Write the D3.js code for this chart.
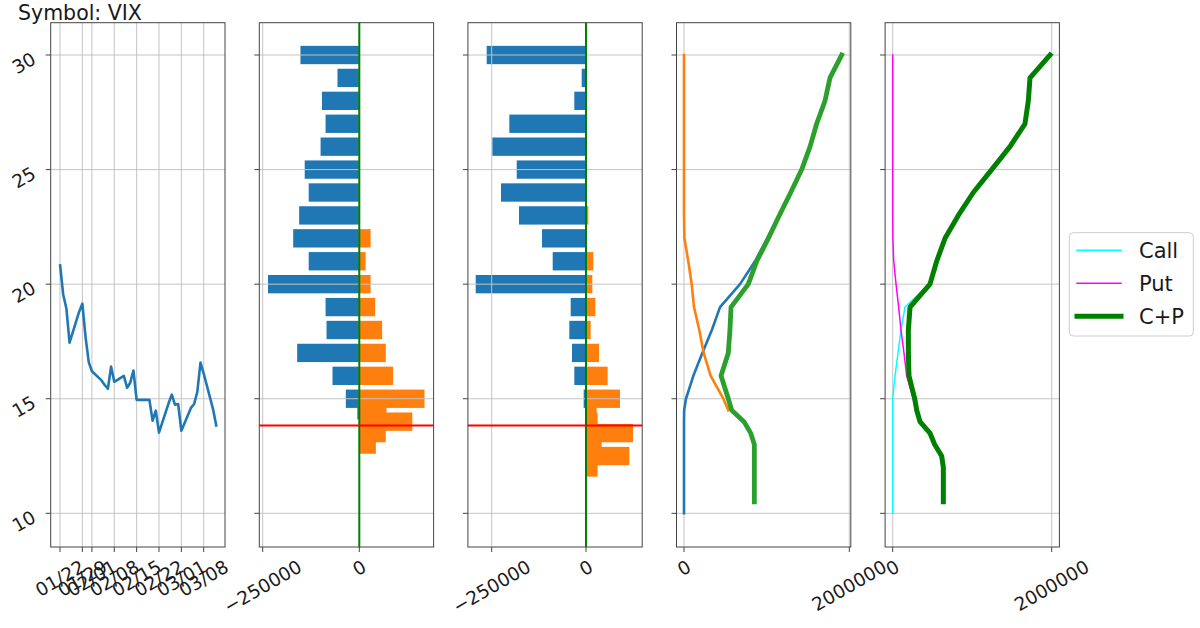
<!DOCTYPE html>
<html><head><meta charset="utf-8">
<script src="https://cdn.jsdelivr.net/npm/d3@7"></script>
<style>
body{margin:0;background:#fff}
svg{display:block}
text{font-family:"DejaVu Sans",sans-serif;fill:#1a1a1a}
</style>
</head><body>
<svg id="chart" width="1200" height="628"></svg>
<script>
// ---------------- data ----------------
const titleText = "Symbol: VIX";

const priceDates = ["2019-01-22","2019-01-23","2019-01-24","2019-01-25","2019-01-28","2019-01-29","2019-01-30","2019-01-31",
  "2019-02-01","2019-02-04","2019-02-05","2019-02-06","2019-02-07","2019-02-08","2019-02-11","2019-02-12","2019-02-13",
  "2019-02-14","2019-02-15","2019-02-19","2019-02-20","2019-02-21","2019-02-22","2019-02-25","2019-02-26","2019-02-27",
  "2019-02-28","2019-03-01","2019-03-04","2019-03-05","2019-03-06","2019-03-07","2019-03-08","2019-03-11","2019-03-12"];
const priceValues = [20.87,19.55,18.94,17.45,18.8,19.15,17.7,16.6,
  16.2,15.8,15.6,15.44,16.4,15.74,16.0,15.48,15.7,
  16.23,14.95,14.95,14.04,14.48,13.52,14.8,15.18,14.74,
  14.77,13.6,14.6,14.77,15.3,16.58,16.1,14.5,13.78];
const dateTicks = ["2019-01-22","2019-01-29","2019-02-01","2019-02-08","2019-02-15","2019-02-22","2019-03-01","2019-03-08"];

const strikeTicks = [10,15,20,25,30];
const strikes = [10,10.5,11,11.5,12,12.5,13,13.5,14,14.5,15,16,17,18,19,20,21,22,23,24,25,26,27,28,29,30];

// panel 2 bars
const bars2Blue = [0,0,0,0,0,0,0,0,0,-5100,-34900,-69400,-160800,-84800,-87300,-236300,-131000,-171100,-155700,-131000,-141300,-100200,-87300,-96600,-56500,-152300];
const bars2Orange = [0,0,0,0,0,0,42900,68600,137200,70400,168800,87300,68600,59100,41100,29300,16400,29300,0,0,0,0,0,0,0,0];
// panel 3 bars
const bars3Blue = [0,0,0,0,0,0,0,0,0,0,-6200,-31000,-37100,-44200,-40600,-292400,-88300,-116600,-177600,-225300,-183700,-248400,-203300,-31000,-11400,-263300];
const bars3Orange = [0,0,0,0,30900,114900,41500,124600,30900,28300,90100,57400,34500,12400,24700,16800,19400,0,6200,0,0,0,0,0,0,0];
const spotLevel = 13.83;
const barTicks = [-250000, 0];

// panel 4 lines
const line4Blue = [0,0,0,0,0,0,0,0,0,2000,24000,113000,222000,337000,436000,678000,859000,1008000,1150000,1288000,1420000,1522000,1602000,1703000,1763000,1905000];
const line4Orange = [null,null,null,null,null,null,null,null,null,536000,476000,323000,238000,185000,121000,93000,52000,5000,0,0,0,0,0,0,0,0];
const line4Green = [null,851000,851000,851000,851000,851000,851000,807000,726000,577000,536000,448000,536000,556000,569000,778000,880000,1020000,1153000,1291000,1424000,1525000,1605000,1706000,1766000,1908000];
// panel 5 lines
const line5Call = [0,0,0,0,0,0,0,0,0,0,0,29000,67000,104000,155000,462000,540000,656000,823000,1012000,1243000,1473000,1662000,1704000,1725000,1977000];
const line5Put = [null,null,null,null,null,null,null,null,null,290000,258000,176000,142000,104000,75000,42000,13000,2000,0,0,0,0,0,0,0,0];
const line5Sum = [null,637000,637000,637000,637000,616000,528000,469000,343000,302000,277000,205000,197000,197000,218000,469000,553000,658000,825000,1014000,1245000,1475000,1664000,1706000,1727000,1979000];
const lineTicks = [0, 2000000];

const legendLabels = ["Call","Put","C+P"];

// ---------------- layout ----------------
const svg = d3.select("#chart");
const TOP = 22.7, BOTTOM = 547;
const PW = 174.3, LEFTS = [50.7, 259.3, 467.9, 676.5, 885.1];
const FS = 18.5;
const GRID = "#c4c4c4", SPINE = "#444";

const y = d3.scaleLinear().domain([8.53, 31.41]).range([BOTTOM, TOP]);
const parse = d3.utcParse("%Y-%m-%d");
const day = 86400000;
const d0 = parse("2019-01-22").getTime();
const x1 = d3.scaleUtc().domain([new Date(d0 - 2.91*day), new Date(d0 + 51.67*day)]).range([LEFTS[0], LEFTS[0]+PW]);
const x2 = d3.scaleLinear().domain([-258800, 192300]).range([LEFTS[1], LEFTS[1]+PW]);
const x3 = d3.scaleLinear().domain([-313100, 149000]).range([LEFTS[2], LEFTS[2]+PW]);
const x4 = d3.scaleLinear().domain([-90700, 2018100]).range([LEFTS[3], LEFTS[3]+PW]);
const x5 = d3.scaleLinear().domain([-95600, 2096900]).range([LEFTS[4], LEFTS[4]+PW]);

const fmtDate = d3.utcFormat("%m/%d");
const fmtNum = v => (v < 0 ? "\u2212" : "") + Math.abs(v);

function xLabel(g, x, text){
  const t = g.append("text").attr("text-anchor","middle").attr("dominant-baseline","central")
    .style("font-size", FS+"px").text(text);
  const L = t.node().getComputedTextLength();
  const half = (L*0.5 + FS*0.866)/2;
  const cy = BOTTOM + 10 + half;
  t.attr("x", x).attr("y", cy).attr("transform", `rotate(-30 ${x} ${cy})`);
}
function yLabel(g, left, yy, text){
  const t = g.append("text").attr("text-anchor","middle").attr("dominant-baseline","central")
    .style("font-size", FS+"px").text(text);
  const L = t.node().getComputedTextLength();
  const W = L*0.866 + FS*0.5;
  const cx = left - 12 - W/2, cy = yy + 8;
  t.attr("x", cx).attr("y", cy).attr("transform", `rotate(-30 ${cx} ${cy})`);
}

function panel(i, xs, xticks, xfmt){
  const left = LEFTS[i], right = left + PW;
  const g = svg.append("g");
  const layers = {
    under: g.append("g"),
    grid: g.append("g"),
    marks: g.append("g"),
    frame: g.append("g")
  };
  strikeTicks.forEach(t => layers.grid.append("line")
    .attr("x1", left).attr("x2", right).attr("y1", y(t)).attr("y2", y(t))
    .attr("stroke", GRID).attr("stroke-width", 1));
  xticks.forEach(t => layers.grid.append("line")
    .attr("x1", xs(t)).attr("x2", xs(t)).attr("y1", TOP).attr("y2", BOTTOM)
    .attr("stroke", GRID).attr("stroke-width", 1));
  layers.frame.append("rect").attr("x", left).attr("y", TOP).attr("width", PW).attr("height", BOTTOM-TOP)
    .attr("fill","none").attr("stroke", SPINE).attr("stroke-width", 1);
  strikeTicks.forEach(t => layers.frame.append("line")
    .attr("x1", left-5).attr("x2", left).attr("y1", y(t)).attr("y2", y(t))
    .attr("stroke", SPINE).attr("stroke-width", 1));
  xticks.forEach(t => {
    layers.frame.append("line").attr("x1", xs(t)).attr("x2", xs(t)).attr("y1", BOTTOM).attr("y2", BOTTOM+5)
      .attr("stroke", SPINE).attr("stroke-width", 1);
    xLabel(layers.frame, xs(t), xfmt(t));
  });
  return layers;
}

// title
svg.append("text").attr("x", 18).attr("y", 19.5).style("font-size","20.5px").text(titleText);

// ---- panel 1 ----
{
  const ticks = dateTicks.map(parse);
  const L = panel(0, x1, ticks, fmtDate);
  strikeTicks.forEach(t => yLabel(L.frame, LEFTS[0], y(t), String(t)));
  const line = d3.line().x((d,i) => x1(parse(priceDates[i]))).y(d => y(d));
  L.marks.append("path").datum(priceValues).attr("d", line).attr("fill","none")
    .attr("stroke","#1f77b4").attr("stroke-width",2.6).attr("stroke-linejoin","round");
}

// ---- bar panels ----
function barPanel(i, xs, blue, orange){
  const L = panel(i, xs, barTicks, fmtNum);
  const bh = y(0) - y(0.8);
  strikes.forEach((s, k) => {
    const vb = blue[k];
    if (vb !== 0) L.under.append("rect").attr("x", xs(vb)).attr("width", xs(0)-xs(vb))
      .attr("y", y(s)-bh/2).attr("height", bh).attr("fill","#1f77b4");
    const vo = orange[k];
    if (vo !== 0) L.under.append("rect").attr("x", xs(0)).attr("width", xs(vo)-xs(0))
      .attr("y", y(s)-bh/2).attr("height", bh).attr("fill","#ff7f0e");
  });
  L.marks.append("line").attr("x1", xs(0)).attr("x2", xs(0)).attr("y1", TOP).attr("y2", BOTTOM)
    .attr("stroke","#008000").attr("stroke-width",2);
  L.marks.append("line").attr("x1", LEFTS[i]).attr("x2", LEFTS[i]+PW).attr("y1", y(spotLevel)).attr("y2", y(spotLevel))
    .attr("stroke","#ff0000").attr("stroke-width",2);
}
barPanel(1, x2, bars2Blue, bars2Orange);
barPanel(2, x3, bars3Blue, bars3Orange);

// ---- line panels ----
function linePanel(i, xs, series){
  const L = panel(i, xs, lineTicks, fmtNum);
  series.forEach(s => {
    const line = d3.line().defined(d => d != null).x(d => xs(d)).y((d,k) => y(strikes[k]));
    L.marks.append("path").datum(s.values).attr("d", line).attr("fill","none")
      .attr("stroke", s.color).attr("stroke-width", s.width)
      .attr("stroke-linejoin","round").attr("stroke-linecap","square");
  });
}
linePanel(3, x4, [
  {values: line4Blue, color:"#1f77b4", width:2.6},
  {values: line4Orange, color:"#ff7f0e", width:2.6},
  {values: line4Green, color:"#2ca02c", width:4.8}
]);
linePanel(4, x5, [
  {values: line5Call, color:"#00ffff", width:1.5},
  {values: line5Put, color:"#ff00ff", width:1.5},
  {values: line5Sum, color:"#008000", width:5}
]);

// ---- legend ----
{
  const lg = svg.append("g");
  lg.append("rect").attr("x",1069.3).attr("y",232.7).attr("width",124).attr("height",103.3)
    .attr("rx",4).attr("fill","#fff").attr("stroke","#cccccc").attr("stroke-width",1);
  const colors = ["#00ffff","#ff00ff","#008000"], widths = [1.5,1.5,5];
  const rowsY = [250.3, 283.2, 316.2];
  legendLabels.forEach((lab, k) => {
    lg.append("line").attr("x1",1077).attr("x2",1121).attr("y1",rowsY[k]).attr("y2",rowsY[k])
      .attr("stroke",colors[k]).attr("stroke-width",widths[k]).attr("stroke-linecap","square");
    lg.append("text").attr("x",1139).attr("y",rowsY[k]+7.6).style("font-size","21px").text(lab);
  });
}
</script>
</body></html>
